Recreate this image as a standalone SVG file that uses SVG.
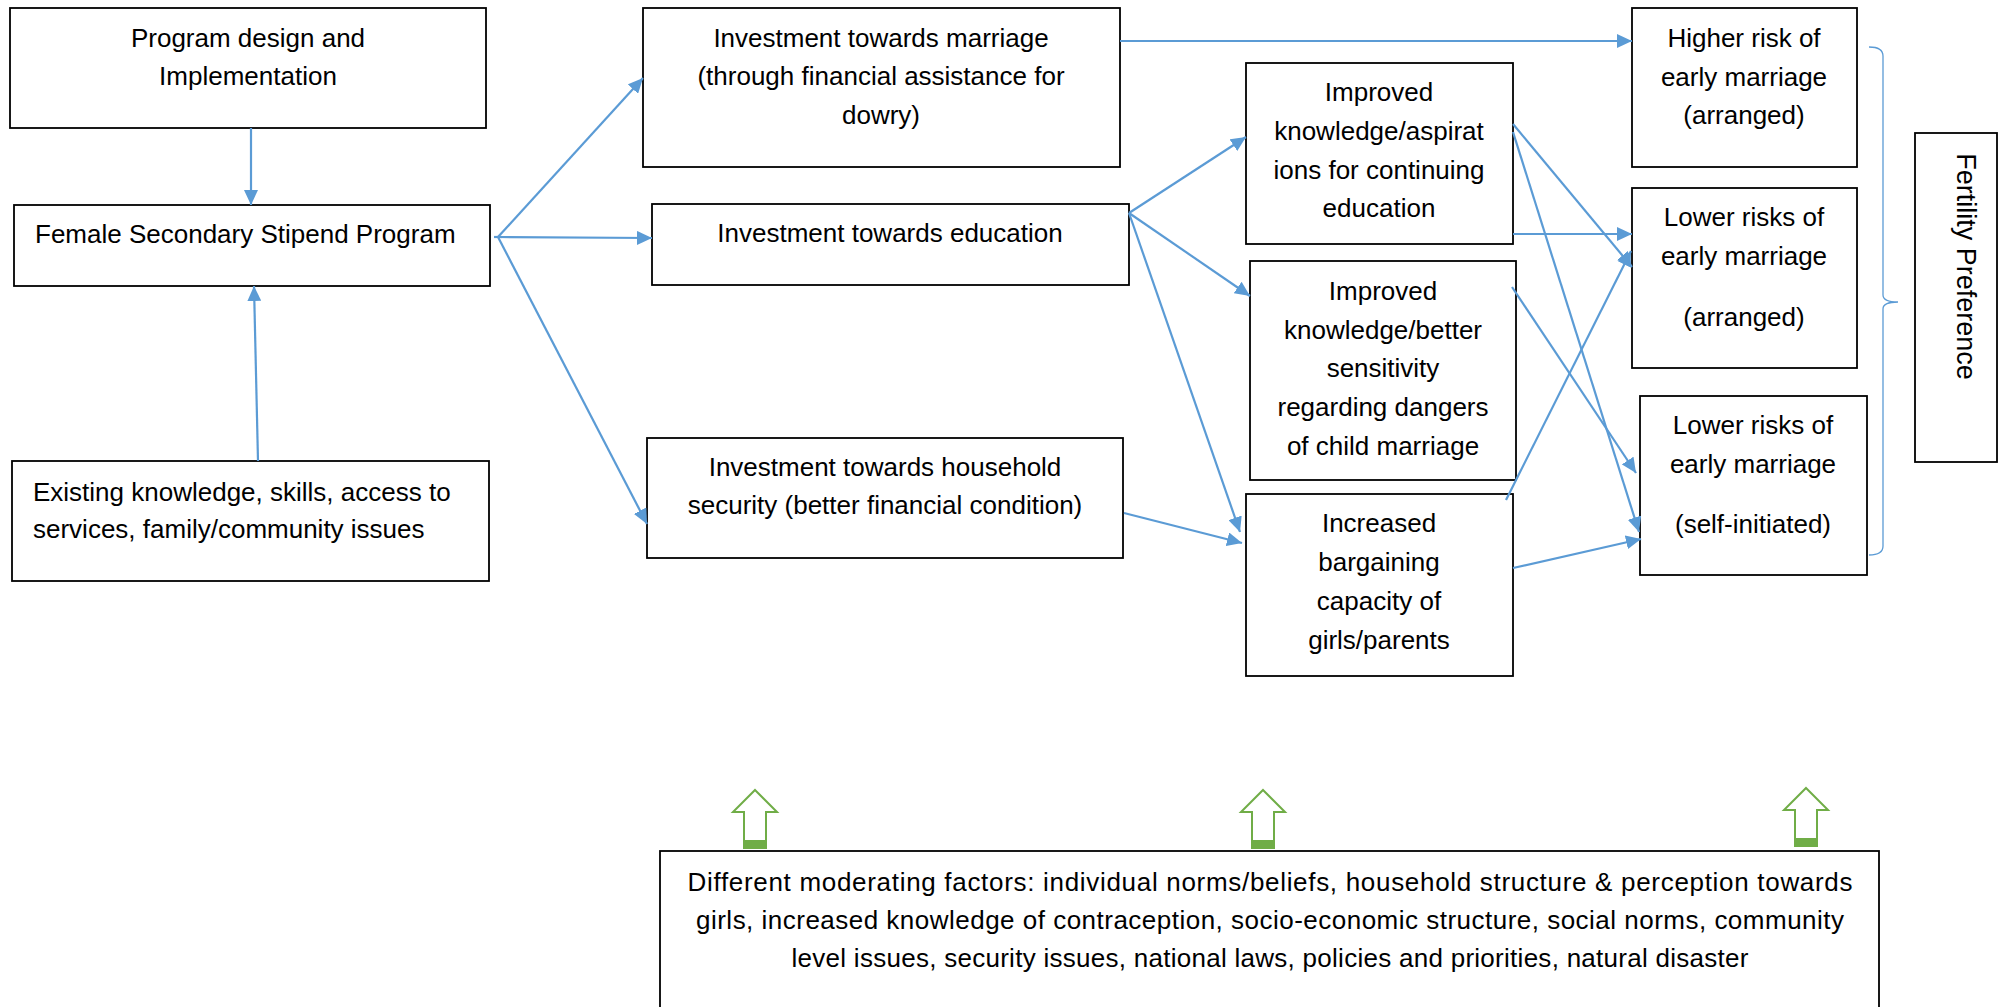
<svg xmlns="http://www.w3.org/2000/svg" width="1998" height="1007" viewBox="0 0 1998 1007">
<style>
.box{fill:#fff;stroke:#000;stroke-width:1.8}
.t{font-family:"Liberation Sans",Arial,sans-serif;font-size:26px;fill:#000;text-anchor:middle}
.tl{text-anchor:start}
.c{stroke:#5B9BD5;stroke-width:2.2;fill:none}
.ga{fill:#fff;stroke:#70AD47;stroke-width:2}
.gf{fill:#70AD47}
</style>
<defs>
<marker id="ah" markerUnits="userSpaceOnUse" markerWidth="16" markerHeight="14" refX="15" refY="7" orient="auto">
<path d="M0,0 L15,7 L0,14 z" fill="#5B9BD5"/>
</marker>
</defs>
<rect width="1998" height="1007" fill="#fff"/>

<g id="program-design">
<rect class="box" x="10" y="8" width="476" height="120"/>
<text class="t" x="248" y="47">Program design and</text>
<text class="t" x="248" y="85">Implementation</text>
</g>
<g id="fssp">
<rect class="box" x="14" y="205" width="476" height="81"/>
<text class="t tl" x="35" y="243">Female Secondary Stipend Program</text>
</g>
<g id="existing">
<rect class="box" x="12" y="461" width="477" height="120"/>
<text class="t tl" x="33" y="501">Existing knowledge, skills, access to</text>
<text class="t tl" x="33" y="538">services, family/community issues</text>
</g>
<g id="inv-marriage">
<rect class="box" x="643" y="8" width="477" height="159"/>
<text class="t" x="881" y="47">Investment towards marriage</text>
<text class="t" x="881" y="85">(through financial assistance for</text>
<text class="t" x="881" y="124">dowry)</text>
</g>
<g id="inv-education">
<rect class="box" x="652" y="204" width="477" height="81"/>
<text class="t" x="890" y="242">Investment towards education</text>
</g>
<g id="inv-household">
<rect class="box" x="647" y="438" width="476" height="120"/>
<text class="t" x="885" y="476">Investment towards household</text>
<text class="t" x="885" y="514">security (better financial condition)</text>
</g>
<g id="improved-aspirations">
<rect class="box" x="1246" y="63" width="267" height="181"/>
<text class="t" x="1379" y="101">Improved</text>
<text class="t" x="1379" y="140">knowledge/aspirat</text>
<text class="t" x="1379" y="179">ions for continuing</text>
<text class="t" x="1379" y="217">education</text>
</g>
<g id="improved-sensitivity">
<rect class="box" x="1250" y="261" width="266" height="219"/>
<text class="t" x="1383" y="300">Improved</text>
<text class="t" x="1383" y="339">knowledge/better</text>
<text class="t" x="1383" y="377">sensitivity</text>
<text class="t" x="1383" y="416">regarding dangers</text>
<text class="t" x="1383" y="455">of child marriage</text>
</g>
<g id="bargaining">
<rect class="box" x="1246" y="494" width="267" height="182"/>
<text class="t" x="1379" y="532">Increased</text>
<text class="t" x="1379" y="571">bargaining</text>
<text class="t" x="1379" y="610">capacity of</text>
<text class="t" x="1379" y="649">girls/parents</text>
</g>
<g id="higher-risk">
<rect class="box" x="1632" y="8" width="225" height="159"/>
<text class="t" x="1744" y="47">Higher risk of</text>
<text class="t" x="1744" y="86">early marriage</text>
<text class="t" x="1744" y="124">(arranged)</text>
</g>
<g id="lower-arranged">
<rect class="box" x="1632" y="188" width="225" height="180"/>
<text class="t" x="1744" y="226">Lower risks of</text>
<text class="t" x="1744" y="265">early marriage</text>
<text class="t" x="1744" y="326">(arranged)</text>
</g>
<g id="lower-self">
<rect class="box" x="1640" y="396" width="227" height="179"/>
<text class="t" x="1753" y="434">Lower risks of</text>
<text class="t" x="1753" y="473">early marriage</text>
<text class="t" x="1753" y="533">(self-initiated)</text>
</g>
<g id="fertility">
<rect class="box" x="1915" y="133" width="82" height="329"/>
<text class="t" style="font-size:27px" transform="translate(1957,266.5) rotate(90)">Fertility Preference</text>
</g>
<g id="moderating">
<rect class="box" x="660" y="851" width="1219" height="200"/>
<text class="t" x="1270" y="891" textLength="1165" lengthAdjust="spacing">Different moderating factors: individual norms/beliefs, household structure &amp; perception towards</text>
<text class="t" x="1270" y="929" textLength="1148" lengthAdjust="spacing">girls, increased knowledge of contraception, socio-economic structure, social norms, community</text>
<text class="t" x="1270" y="967" textLength="957" lengthAdjust="spacing">level issues, security issues, national laws, policies and priorities, natural disaster</text>
</g>

<g id="connectors">
<line class="c" x1="251" y1="128" x2="251" y2="205" marker-end="url(#ah)"/>
<line class="c" x1="258" y1="461" x2="254" y2="286" marker-end="url(#ah)"/>
<line class="c" x1="494" y1="237" x2="502" y2="237"/>
<line class="c" x1="498" y1="237" x2="643" y2="78" marker-end="url(#ah)"/>
<line class="c" x1="498" y1="237" x2="652" y2="238" marker-end="url(#ah)"/>
<line class="c" x1="498" y1="237" x2="647" y2="524" marker-end="url(#ah)"/>
<line class="c" x1="1120" y1="41" x2="1632" y2="41" marker-end="url(#ah)"/>
<line class="c" x1="1129" y1="213" x2="1246" y2="137" marker-end="url(#ah)"/>
<line class="c" x1="1129" y1="213" x2="1250" y2="296" marker-end="url(#ah)"/>
<line class="c" x1="1129" y1="213" x2="1240" y2="532" marker-end="url(#ah)"/>
<line class="c" x1="1124" y1="513" x2="1242" y2="543" marker-end="url(#ah)"/>
<line class="c" x1="1513" y1="124" x2="1632" y2="267" marker-end="url(#ah)"/>
<line class="c" x1="1513" y1="132" x2="1639" y2="532" marker-end="url(#ah)"/>
<line class="c" x1="1513" y1="234" x2="1632" y2="234" marker-end="url(#ah)"/>
<line class="c" x1="1512" y1="287" x2="1636" y2="473" marker-end="url(#ah)"/>
<line class="c" x1="1506" y1="500" x2="1631" y2="251" marker-end="url(#ah)"/>
<line class="c" x1="1513" y1="568" x2="1641" y2="539" marker-end="url(#ah)"/>
<path d="M1869,47 Q1883,47 1883,56 L1883,295 Q1883,302 1898,302 Q1883,302 1883,309 L1883,546 Q1883,555 1869,555" fill="none" stroke="#5B9BD5" stroke-width="1.3"/>
</g>

<g id="green-arrows">
<polygon class="ga" points="755,790 777,812 766,812 766,848 744,848 744,812 733,812"/>
<rect class="gf" x="744" y="840" width="22" height="8"/>
<polygon class="ga" points="1263,790 1285,812 1274,812 1274,848 1252,848 1252,812 1241,812"/>
<rect class="gf" x="1252" y="840" width="22" height="8"/>
<polygon class="ga" points="1806,788 1828,810 1817,810 1817,846 1795,846 1795,810 1784,810"/>
<rect class="gf" x="1795" y="838" width="22" height="8"/>
</g>
</svg>
